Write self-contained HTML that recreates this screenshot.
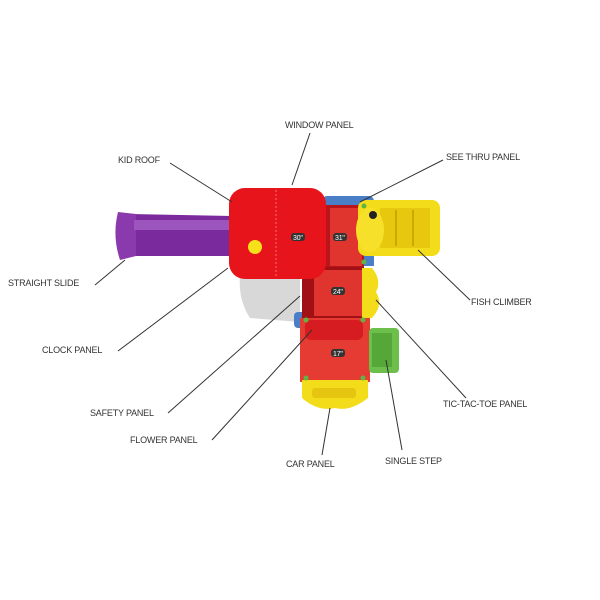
<!DOCTYPE html>
<html><head><style>
html,body{margin:0;padding:0;background:#fff;width:600px;height:600px;overflow:hidden}
svg text{font-family:"Liberation Sans",sans-serif;font-size:9px;fill:#333;letter-spacing:-0.2px}
</style></head><body>
<svg width="600" height="600" viewBox="0 0 600 600">
<!-- shadow -->
<path d="M240 275 L300 275 L300 322 L250 318 Q238 300 240 275Z" fill="#d8d8d8"/>
<!-- slide -->
<path d="M130 214 L232 216 L232 256 L130 256Z" fill="#7a2a9c"/>
<path d="M118 212 Q112 236 120 260 L136 256 L136 214Z" fill="#8b3aae"/>
<rect x="134" y="220" width="98" height="10" fill="#9c55bd"/>
<!-- blue parts -->
<rect x="322" y="196" width="52" height="14" rx="5" fill="#4a7fc8"/>
<rect x="294" y="312" width="12" height="16" rx="4" fill="#4a7fc8"/>
<rect x="360" y="254" width="14" height="12" fill="#4a7fc8"/>
<!-- decks -->
<rect x="318" y="205" width="46" height="64" fill="#b8141a"/>
<rect x="330" y="208" width="32" height="58" fill="#e0352f"/>
<rect x="302" y="267" width="62" height="52" fill="#a01015"/>
<rect x="314" y="270" width="48" height="46" fill="#e0352f"/>
<rect x="300" y="318" width="70" height="64" fill="#e53b33"/>
<rect x="305" y="320" width="58" height="20" rx="6" fill="#d61c20"/>
<!-- roof -->
<rect x="229" y="188" width="97" height="91" rx="16" fill="#e8141c"/>
<line x1="276" y1="190" x2="276" y2="277" stroke="#f27070" stroke-width="1" stroke-dasharray="2 2"/>
<circle cx="255" cy="247" r="7" fill="#f5e01a"/>
<!-- yellow fish climber -->
<rect x="358" y="200" width="82" height="56" rx="8" fill="#f3dd1a"/>
<rect x="380" y="208" width="50" height="40" fill="#e7c80e"/>
<line x1="396" y1="210" x2="396" y2="246" stroke="#c9aa00" stroke-width="2"/>
<line x1="413" y1="210" x2="413" y2="246" stroke="#c9aa00" stroke-width="2"/>
<ellipse cx="370" cy="230" rx="14" ry="22" fill="#f7e02a"/>
<circle cx="373" cy="215" r="4" fill="#222"/>
<!-- tic tac toe -->
<path d="M362 268 L372 268 Q382 280 376 292 Q384 305 372 318 L362 318Z" fill="#f3dd1a"/>
<!-- step -->
<rect x="369" y="328" width="30" height="45" rx="4" fill="#6cbf4a"/>
<rect x="372" y="333" width="20" height="34" fill="#55a838"/>
<!-- car -->
<path d="M302 380 L368 380 L368 398 Q350 412 335 408 Q318 412 302 398Z" fill="#f3dd1a"/>
<rect x="312" y="388" width="44" height="10" rx="3" fill="#e6c510"/>
<!-- green bolts -->
<g fill="#5fb442"><circle cx="306" cy="320" r="2.5"/><circle cx="363" cy="320" r="2.5"/><circle cx="306" cy="378" r="2.5"/><circle cx="363" cy="378" r="2.5"/><circle cx="364" cy="262" r="2.5"/><circle cx="364" cy="206" r="2.5"/></g>
<!-- height badges -->
<g font-size="7"><rect x="291" y="233" width="14" height="8" rx="3" fill="#333"/><text x="293" y="240" style="font-size:7px;fill:#fff">30"</text>
<rect x="333" y="233" width="14" height="8" rx="3" fill="#333"/><text x="335" y="240" style="font-size:7px;fill:#fff">31"</text>
<rect x="331" y="287" width="14" height="8" rx="3" fill="#333"/><text x="333" y="294" style="font-size:7px;fill:#fff">24"</text>
<rect x="331" y="349" width="14" height="8" rx="3" fill="#333"/><text x="333" y="356" style="font-size:7px;fill:#fff">17"</text></g>
<!-- leader lines -->
<g stroke="#333" stroke-width="1">
<line x1="310" y1="133" x2="292" y2="185"/>
<line x1="170" y1="163" x2="232" y2="202"/>
<line x1="443" y1="160" x2="360" y2="202"/>
<line x1="95" y1="285" x2="125" y2="260"/>
<line x1="470" y1="300" x2="418" y2="250"/>
<line x1="118" y1="351" x2="228" y2="268"/>
<line x1="466" y1="398" x2="376" y2="300"/>
<line x1="168" y1="413" x2="300" y2="296"/>
<line x1="212" y1="440" x2="312" y2="330"/>
<line x1="322" y1="455" x2="330" y2="408"/>
<line x1="402" y1="450" x2="386" y2="360"/>
</g>
<!-- labels -->
<text x="285" y="128">WINDOW PANEL</text>
<text x="118" y="163">KID ROOF</text>
<text x="446" y="160">SEE THRU PANEL</text>
<text x="8" y="286">STRAIGHT SLIDE</text>
<text x="471" y="305">FISH CLIMBER</text>
<text x="42" y="353">CLOCK PANEL</text>
<text x="443" y="407">TIC-TAC-TOE PANEL</text>
<text x="90" y="416">SAFETY PANEL</text>
<text x="130" y="443">FLOWER PANEL</text>
<text x="286" y="467">CAR PANEL</text>
<text x="385" y="464">SINGLE STEP</text>
</svg>
</body></html>
